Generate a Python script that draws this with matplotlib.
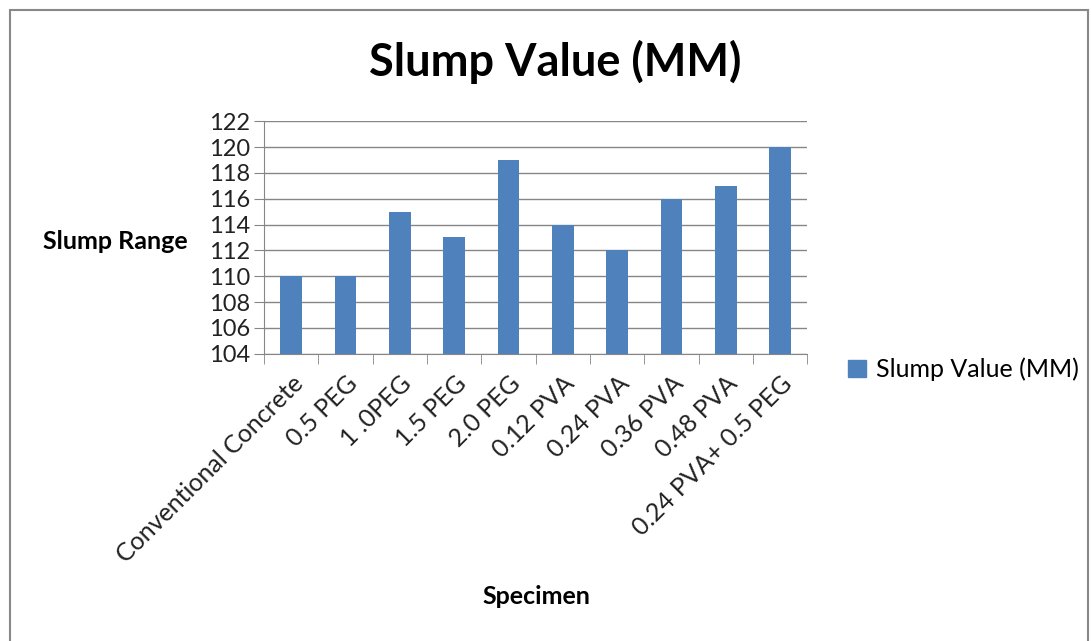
import matplotlib
matplotlib.use('Agg')
import matplotlib.pyplot as plt
from matplotlib.patches import Rectangle, Patch
import numpy as np

# Data
specimens = ['Conventional Concrete', '0.5 PEG', '1 .0PEG', '1.5 PEG', '2.0 PEG',
             '0.12 PVA', '0.24 PVA', '0.36 PVA', '0.48 PVA', '0.24 PVA+ 0.5 PEG']
slump = [110, 110, 115, 113, 119, 114, 112, 116, 117, 120]
y_ticks = list(range(104, 123, 2))

plt.rcParams['font.family'] = ['Lato', 'DejaVu Sans']
bar_color = '#4F81BD'
grid_color = '#868686'

fig = plt.figure(figsize=(10.91, 6.41), dpi=100)
ax = fig.add_axes([0.242, 0.448, 0.498, 0.363])

x = np.arange(len(specimens))
ax.bar(x, slump, width=0.4, color=bar_color, zorder=3)

ax.set_xlim(-0.5, len(specimens) - 0.5)
ax.set_ylim(104, 122)
ax.set_yticks(y_ticks)
ax.set_xticks(x)
ax.set_xticklabels(specimens, rotation=45, ha='right', rotation_mode='anchor', fontsize=18)
ax.tick_params(axis='y', labelsize=17, length=7, color=grid_color, pad=3, labelcolor='#222222')
ax.tick_params(axis='x', length=0, pad=13, labelcolor='#222222')
# category separators like excel
ax.set_xticks(np.arange(-0.5, len(specimens)), minor=True)
ax.tick_params(axis='x', which='minor', length=7, color=grid_color)

ax.grid(axis='y', color=grid_color, linewidth=1, zorder=0)
for s in ['top', 'right']:
    ax.spines[s].set_visible(False)
ax.spines['left'].set_color(grid_color)
ax.spines['bottom'].set_color(grid_color)

fig.text(0.509, 0.903, 'Slump Value (MM)', ha='center', va='center', fontsize=32.5, fontweight='bold')
fig.text(0.039, 0.623, 'Slump Range', ha='left', va='center', fontsize=18, fontweight='bold')
fig.text(0.492, 0.07, 'Specimen', ha='center', va='center', fontsize=18, fontweight='bold')

fig.legend(handles=[Patch(color=bar_color, label='Slump Value (MM)')],
           loc='center left', bbox_to_anchor=(0.757, 0.424), frameon=False,
           fontsize=18, handlelength=0.7, handleheight=0.7, handletextpad=0.4)

fig.patches.append(Rectangle((0.009, -0.01), 0.988, 0.995, transform=fig.transFigure,
                             fill=False, edgecolor='#888888', linewidth=1.5))

fig.savefig('out.png', dpi=100)
